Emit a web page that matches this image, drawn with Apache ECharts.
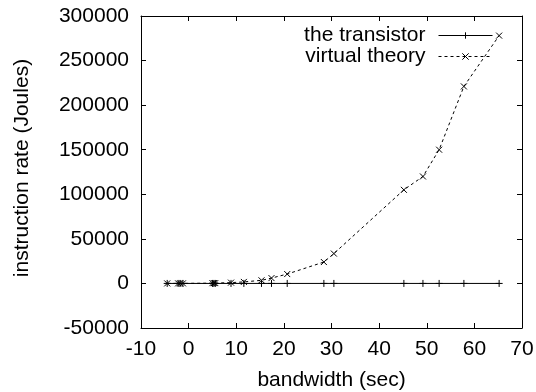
<!DOCTYPE html>
<html>
<head>
<meta charset="utf-8">
<script src="https://cdn.jsdelivr.net/npm/echarts@6/dist/echarts.min.js"></script>
<style>
html,body{margin:0;padding:0;background:#fff;}
#chart{width:536px;height:392px;}
</style>
</head>
<body>
<div id="chart"></div>
<script>
var xValues = [-4.5, -2.2, -1.8, -1.2, 5.0, 5.3, 5.6, 8.9, 11.6, 15.3, 17.4, 20.7, 28.4, 30.5, 45.2, 49.2, 52.6, 57.8, 65.2];
var transistor = [0, 0, 0, 0, 0, 0, 0, 0, 0, 0, 0, 0, 0, 0, 0, 0, 0, 0, 0];
var virtualTheory = [20, 40, 50, 70, 300, 350, 400, 900, 1700, 3500, 6000, 10500, 24000, 33500, 105000, 120000, 150000, 221000, 278000];
var xTicks = [-10, 0, 10, 20, 30, 40, 50, 60, 70];
var yTicks = [-50000, 0, 50000, 100000, 150000, 200000, 250000, 300000];

var FONT = 'Liberation Sans';
function pairs(xs, ys) { return xs.map(function (x, i) { return [x, ys[i]]; }); }
function plain(v) { return String(v); }

var chart = echarts.init(document.getElementById('chart'), null, {renderer: 'canvas'});
var axisCommon = {
  axisLine: {show: true, onZero: false, lineStyle: {color: '#000', width: 1}},
  axisTick: {show: true, inside: true, length: 5, lineStyle: {color: '#000'}},
  splitLine: {show: false}
};
chart.setOption({
  animation: false,
  backgroundColor: '#fff',
  grid: {left: 141, right: 14, top: 16, bottom: 64, containLabel: false, outerBoundsMode: 'none'},
  legend: {
    orient: 'vertical',
    right: 38,
    top: 20,
    align: 'right',
    itemGap: 0,
    itemWidth: 54,
    itemHeight: 8,
    lineStyle: {width: 1},
    itemStyle: {borderWidth: 1},
    textStyle: {fontFamily: FONT, fontSize: 21, color: '#000', lineHeight: 20, padding: [0, 8, 0, 0]},
    data: ['the transistor', 'virtual theory']
  },
  xAxis: [
    Object.assign({
      type: 'value', position: 'bottom', min: xTicks[0], max: xTicks[xTicks.length - 1], interval: 10,
      name: 'bandwidth (sec)', nameLocation: 'middle', nameGap: 42,
      nameTextStyle: {fontFamily: FONT, fontSize: 21, color: '#000'},
      axisLabel: {fontFamily: FONT, fontSize: 21, color: '#000', margin: 11, formatter: plain}
    }, axisCommon),
    Object.assign({
      type: 'value', position: 'top', min: xTicks[0], max: xTicks[xTicks.length - 1], interval: 10,
      axisLabel: {show: false}
    }, axisCommon)
  ],
  yAxis: [
    Object.assign({
      type: 'value', position: 'left', min: yTicks[0], max: yTicks[yTicks.length - 1], interval: 50000,
      name: 'instruction rate (Joules)', nameLocation: 'middle', nameGap: 108,
      nameTextStyle: {fontFamily: FONT, fontSize: 21, color: '#000', padding: [0, 0, 0, 8]},
      axisLabel: {fontFamily: FONT, fontSize: 21, color: '#000', margin: 12, formatter: plain}
    }, axisCommon),
    Object.assign({
      type: 'value', position: 'right', min: yTicks[0], max: yTicks[yTicks.length - 1], interval: 50000,
      axisLabel: {show: false}
    }, axisCommon)
  ],
  series: [
    {
      name: 'the transistor', type: 'line', data: pairs(xValues, transistor),
      symbol: 'path://M0,5L10,5M5,0L5,10', symbolSize: 7, showAllSymbol: true,
      lineStyle: {color: '#000', width: 1},
      itemStyle: {color: 'rgba(0,0,0,0)', borderColor: '#000', borderWidth: 1}
    },
    {
      name: 'virtual theory', type: 'line', data: pairs(xValues, virtualTheory),
      symbol: 'path://M0,0L10,10M10,0L0,10', symbolSize: 6, showAllSymbol: true,
      lineStyle: {color: '#000', width: 1, type: [3, 3]},
      itemStyle: {color: 'rgba(0,0,0,0)', borderColor: '#000', borderWidth: 1}
    }
  ]
});
</script>
</body>
</html>
